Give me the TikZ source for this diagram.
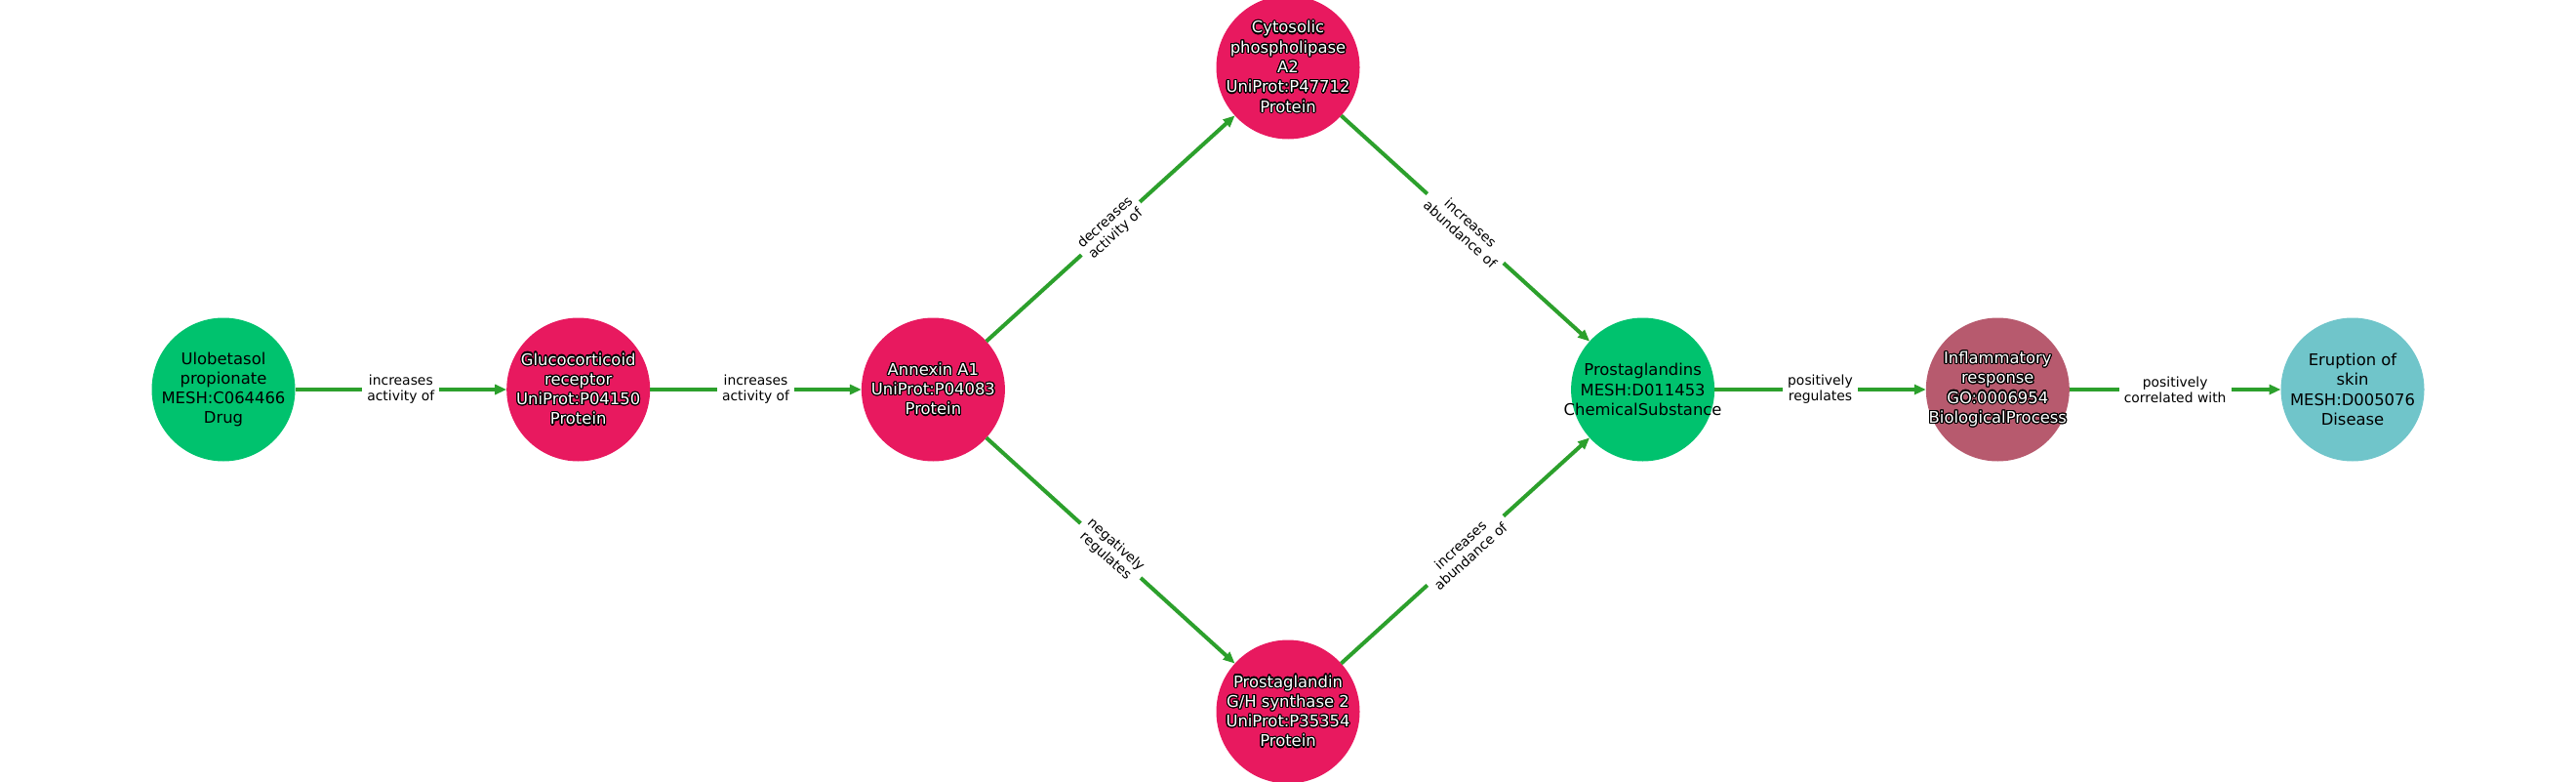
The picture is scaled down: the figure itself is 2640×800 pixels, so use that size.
\documentclass[tikz,border=0pt]{standalone}
\usepackage{fontspec}
\setmainfont{DejaVu Sans}
\usepackage[copies]{contour}
\contourlength{0.6pt}
\usetikzlibrary{arrows.meta}
\definecolor{drugcol}{HTML}{00C26E}
\definecolor{protcol}{HTML}{E8195F}
\definecolor{proccol}{HTML}{B75A6E}
\definecolor{discol}{HTML}{70C5CA}
\definecolor{edgecol}{HTML}{2CA02C}
\newcommand{\wtxt}[1]{\contour{black}{#1}}

\begin{document}
\begin{tikzpicture}[x=0.5pt, y=0.5pt, >={Triangle[length=6pt, width=5pt]},
  ent/.style={circle, minimum size=73.5pt, inner sep=0pt, outer sep=0pt},
  prot/.style={ent, fill=protcol},
  ntext/.style={align=center, inner sep=0pt, text=black, font=\fontsize{8.2}{10.15}\selectfont},
  wtext/.style={ntext, text=white},
  rel/.style={draw=edgecol, line width=2pt, ->},
  lbl/.style={fill=white, inner xsep=2.5pt, inner ysep=1pt, align=center, text=black, font=\fontsize{6.95}{7.9}\selectfont}]
  \useasboundingbox (0,0) rectangle (2640,800);
  % Nodes
  \node[ent, fill=drugcol, label={[ntext]center:{Ulobetasol\\propionate\\MESH:C064466\\Drug}}](drug) at (229,401) {};
  \node[prot, label={[wtext]center:{\wtxt{Glucocorticoid}\\\wtxt{receptor}\\\wtxt{UniProt:P04150}\\\wtxt{Protein}}}](gr) at (592.7,401) {};
  \node[prot, label={[wtext]center:{\wtxt{Annexin A1}\\\wtxt{UniProt:P04083}\\\wtxt{Protein}}}](anxa) at (956.4,401) {};
  \node[prot, label={[wtext]center:{\wtxt{Cytosolic}\\\wtxt{phospholipase}\\\wtxt{A2}\\\wtxt{UniProt:P47712}\\\wtxt{Protein}}}](cpla) at (1320,731) {};
  \node[prot, label={[wtext]center:{\wtxt{Prostaglandin}\\\wtxt{G/H synthase 2}\\\wtxt{UniProt:P35354}\\\wtxt{Protein}}}](ptgs) at (1320,71) {};
  \node[ent, fill=drugcol, label={[ntext]center:{Prostaglandins\\MESH:D011453\\ChemicalSubstance}}](pg) at (1683.6,401) {};
  \node[ent, fill=proccol, label={[wtext]center:{\wtxt{Inflammatory}\\\wtxt{response}\\\wtxt{GO:0006954}\\\wtxt{BiologicalProcess}}}](inflam) at (2047.3,401) {};
  \node[ent, fill=discol, label={[ntext]center:{Eruption of\\skin\\MESH:D005076\\Disease}}](erup) at (2411,401) {};
  % Edges
  \draw[rel](drug)--node[lbl]{increases\\activity of}(gr);
  \draw[rel](gr)--node[lbl]{increases\\activity of}(anxa);
  \draw[rel](anxa)--node[lbl, sloped]{decreases\\activity of}(cpla);
  \draw[rel](anxa)--node[lbl, sloped]{negatively\\regulates}(ptgs);
  \draw[rel](cpla)--node[lbl, sloped]{increases\\abundance of}(pg);
  \draw[rel](ptgs)--node[lbl, sloped]{increases\\abundance of}(pg);
  \draw[rel](pg)--node[lbl]{positively\\regulates}(inflam);
  \draw[rel](inflam)--node[lbl]{positively\\correlated with}(erup);
\end{tikzpicture}
\end{document}
